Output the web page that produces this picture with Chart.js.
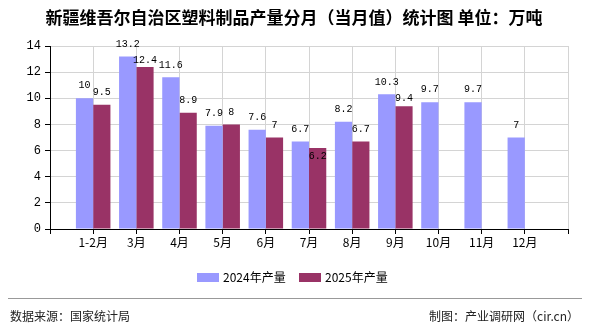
<!DOCTYPE html>
<html><head><meta charset="utf-8">
<script src="https://cdn.jsdelivr.net/npm/chart.js@4.4.1/dist/chart.umd.min.js"></script>
<style>html,body{margin:0;padding:0;background:#fff}#wrap{width:590px;height:330px}</style>
</head><body><div id="wrap"><canvas id="c" width="590" height="330"></canvas></div>
<script>
const categories = ['', '1-2月', '3月', '4月', '5月', '6月', '7月', '8月', '9月', '10月', '11月', '12月', ''];
const series2024 = [null, 10, 13.2, 11.6, 7.9, 7.6, 6.7, 8.2, 10.3, 9.7, 9.7, 7, null];
const series2025 = [null, 9.5, 12.4, 8.9, 8, 7, 6.2, 6.7, 9.4, null, null, null, null];
const yTicks = [0, 2, 4, 6, 8, 10, 12, 14];
const titleText = '新疆维吾尔自治区塑料制品产量分月（当月值）统计图 单位：万吨';
const sourceText = '数据来源：国家统计局';
const creditText = '制图：产业调研网（cir.cn）';

const FONT = "'Noto Sans CJK SC', 'Noto Sans', sans-serif";
const MONO = "'Liberation Mono', 'DejaVu Sans Mono', monospace";

const labelPlugin = {
  id: 'labels',
  afterDatasetsDraw(chart) {
    const ctx = chart.ctx;
    ctx.save();
    ctx.font = '10px ' + MONO;
    ctx.fillStyle = '#000';
    ctx.textAlign = 'center';
    ctx.textBaseline = 'middle';
    const m0 = chart.getDatasetMeta(0), m1 = chart.getDatasetMeta(1);
    const d0 = chart.data.datasets[0].data, d1 = chart.data.datasets[1].data;
    for (let i = 0; i < categories.length; i++) {
      let r0 = null;
      if (d0[i] != null) {
        const el = m0.data[i];
        const t = String(d0[i]);
        const w = ctx.measureText(t).width;
        const y = el.y - 12.5;
        ctx.fillText(t, el.x, y);
        r0 = {l: el.x - w/2, r: el.x + w/2, cy: y};
      }
      if (d1[i] != null) {
        const el = m1.data[i];
        const t = String(d1[i]);
        const w = ctx.measureText(t).width;
        let y = el.y - 12.5;
        const l = el.x - w/2, r = el.x + w/2;
        const hOverlap = r0 ? Math.min(r, r0.r) - Math.max(l, r0.l) : -99;
        if (r0 && hOverlap > -2 && Math.abs(y - r0.cy) < 12) {
          y = r0.cy + 16;
          if (y > el.y - 6) y = el.y + 8;
        }
        ctx.fillText(t, el.x, y);
      }
    }
    ctx.restore();
  }
};

const decorPlugin = {
  id: 'decor',
  afterDraw(chart) {
    const ctx = chart.ctx;
    ctx.save();
    ctx.fillStyle = '#000';
    ctx.font = 'bold 17px ' + FONT;
    ctx.textAlign = 'center';
    ctx.textBaseline = 'middle';
    ctx.fillText(titleText, 294, 18);
    ctx.font = '12px ' + FONT;
    ctx.textAlign = 'left';
    const items = [
      {x: 197, ds: chart.data.datasets[0]},
      {x: 299, ds: chart.data.datasets[1]}
    ];
    items.forEach(it => {
      ctx.fillStyle = it.ds.backgroundColor;
      ctx.fillRect(it.x, 273, 22, 9);
      ctx.fillStyle = '#000';
      ctx.fillText(it.ds.label, it.x + 26, 277.5);
    });
    ctx.strokeStyle = '#999';
    ctx.lineWidth = 1;
    ctx.beginPath();
    ctx.moveTo(8, 298.5);
    ctx.lineTo(582, 298.5);
    ctx.stroke();
    ctx.fillStyle = '#222';
    ctx.font = '12px ' + FONT;
    ctx.textAlign = 'left';
    ctx.fillText(sourceText, 10, 316);
    ctx.textAlign = 'right';
    ctx.fillText(creditText, 579, 316);
    ctx.restore();
  }
};

new Chart(document.getElementById('c'), {
  type: 'bar',
  data: {
    labels: categories,
    datasets: [
      {label: '2024年产量', data: series2024, backgroundColor: '#9999ff', borderWidth: 0, categoryPercentage: 0.8, barPercentage: 1.0},
      {label: '2025年产量', data: series2025, backgroundColor: '#993366', borderWidth: 0, categoryPercentage: 0.8, barPercentage: 1.0}
    ]
  },
  options: {
    responsive: false,
    animation: false,
    devicePixelRatio: 1,
    layout: {padding: {left: 10, top: 46, right: 22, bottom: 71}},
    plugins: {legend: {display: false}, title: {display: false}, tooltip: {enabled: false}},
    scales: {
      x: {
        offset: false,
        grid: {offset: false, color: '#d4d4d4', tickColor: '#000', tickLength: 5, drawTicks: true},
        border: {color: '#000', width: 1},
        ticks: {color: '#000', font: {size: 12, family: FONT}, padding: 1, autoSkip: false, maxRotation: 0},
        afterFit(s) { s.height = 30; }
      },
      y: {
        min: 0, max: 14,
        afterBuildTicks(s) { s.ticks = yTicks.map(v => ({value: v})); },
        grid: {color: '#d4d4d4', tickColor: '#000', tickLength: 5},
        border: {color: '#000', width: 1},
        ticks: {color: '#000', font: {size: 12, family: MONO}, padding: 4},
        afterFit(s) { s.width = 40; }
      }
    }
  },
  plugins: [labelPlugin, decorPlugin]
});
</script></body></html>
